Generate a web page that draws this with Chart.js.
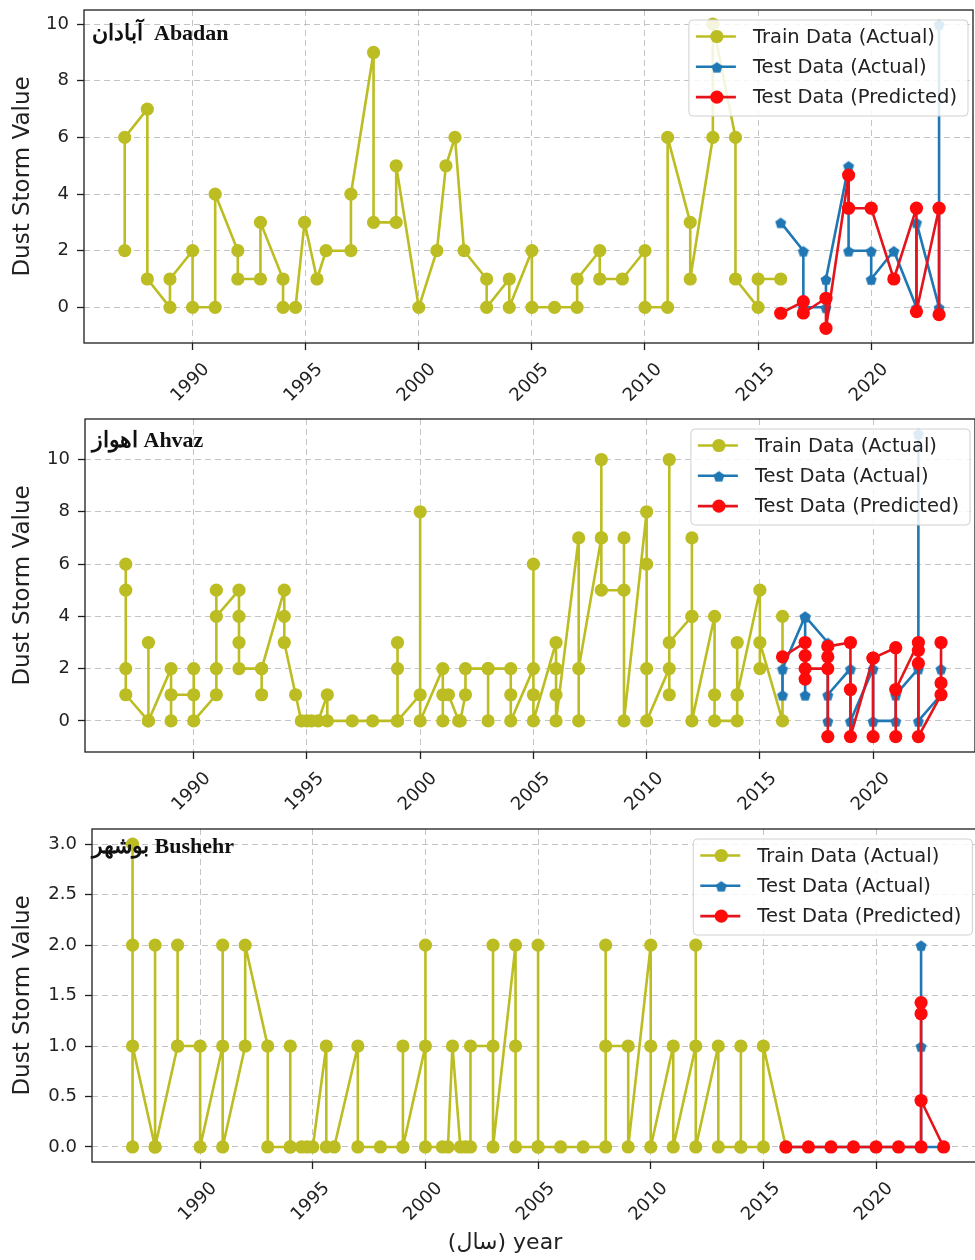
<!DOCTYPE html>
<html>
<head>
<meta charset="utf-8">
<script src="https://cdn.jsdelivr.net/npm/chart.js@4.4.1/dist/chart.umd.min.js"></script>
<style>
  html, body { margin: 0; padding: 0; background: #fff; }
  #wrap { position: relative; width: 975px; height: 1260px; overflow: hidden; }
  .panel { position: absolute; left: 0; width: 985px; }
  .panel canvas { display: block; }
</style>
</head>
<body>
<div id="wrap">
  <div class="panel" style="top:0;height:410px"><canvas id="abadanChart" width="985" height="410"></canvas></div>
  <div class="panel" style="top:410px;height:410px"><canvas id="ahvazChart" width="985" height="410"></canvas></div>
  <div class="panel" style="top:820px;height:440px"><canvas id="bushehrChart" width="985" height="440"></canvas></div>
</div>
<script>
(function () {
  "use strict";

  // -------------------------
  // Data
  // -------------------------
  const seriesLabels = ["Train Data (Actual)", "Test Data (Actual)", "Test Data (Predicted)"];
  const stationTitles = ["آبادان  Abadan", "اهواز Ahvaz", "بوشهر Bushehr"];
  const xAxisTitle = "(سال) year";
  const yAxisTitle = "Dust Storm Value";

  // Abadan
  const abadanTrainYears = [1987, 1987, 1988, 1988, 1989, 1989, 1990, 1990, 1991, 1991, 1992, 1992, 1993, 1993, 1994, 1994, 1994.55, 1994.95, 1995.5, 1995.9, 1997, 1997, 1998, 1998, 1999, 1999, 2000, 2000.8, 2001.2, 2001.6, 2002, 2003, 2003, 2004, 2004, 2005, 2005, 2006, 2007, 2007, 2008, 2008, 2009, 2010, 2010, 2011, 2011, 2012, 2012, 2013, 2013, 2014, 2014, 2015, 2015, 2016];
  const abadanTrainValues = [2, 6, 7, 1, 0, 1, 2, 0, 0, 4, 2, 1, 1, 3, 1, 0, 0, 3, 1, 2, 2, 4, 9, 3, 3, 5, 0, 2, 5, 6, 2, 1, 0, 1, 0, 2, 0, 0, 0, 1, 2, 1, 1, 2, 0, 0, 6, 3, 1, 6, 10, 6, 1, 0, 1, 1];
  const abadanTestYears = [2016, 2017, 2017, 2018, 2018, 2019, 2019, 2020, 2020, 2021, 2022, 2022, 2023, 2023];
  const abadanTestValues = [3, 2, 0, 0, 1, 5, 2, 2, 1, 2, 0, 3, 0, 10];
  const abadanPredYears = [2016, 2017, 2017, 2018, 2018, 2019, 2019, 2020, 2021, 2022, 2022, 2023, 2023];
  const abadanPredValues = [-0.21, 0.2, -0.2, 0.32, -0.74, 4.67, 3.5, 3.5, 1.0, 3.5, -0.15, 3.5, -0.26];

  // Ahvaz
  const ahvazTrainYears = [1987, 1987, 1987, 1987, 1988, 1988, 1988, 1989, 1989, 1989, 1990, 1990, 1990, 1991, 1991, 1991, 1991, 1992, 1992, 1992, 1992, 1993, 1993, 1993, 1994, 1994, 1994, 1994.5, 1994.75, 1995, 1995.2, 1995.5, 1995.9, 1995.9, 1997, 1997.9, 1999, 1999, 1999, 1999, 2000, 2000, 2000, 2001, 2001, 2001, 2001.25, 2001.7, 2001.77, 2002, 2002, 2003, 2003, 2003, 2004, 2004, 2004, 2005, 2005, 2005, 2005, 2006, 2006, 2006, 2006, 2007, 2007, 2007, 2008, 2008, 2008, 2008, 2009, 2009, 2009, 2010, 2010, 2010, 2010, 2011, 2011, 2011, 2011, 2012, 2012, 2012, 2012, 2013, 2013, 2013, 2014, 2014, 2014, 2014, 2015, 2015, 2015, 2016, 2016];
  const ahvazTrainValues = [6, 5, 2, 1, 0, 3, 0, 2, 0, 1, 1, 2, 0, 1, 2, 5, 4, 5, 4, 3, 2, 2, 1, 2, 5, 4, 3, 1, 0, 0, 0, 0, 1, 0, 0, 0, 0, 2, 3, 0, 1, 8, 0, 2, 0, 1, 1, 0, 0, 1, 2, 2, 0, 2, 2, 1, 0, 2, 6, 1, 0, 3, 2, 1, 0, 7, 0, 2, 7, 10, 7, 5, 5, 7, 0, 8, 6, 2, 0, 2, 1, 10, 3, 4, 7, 4, 0, 4, 1, 0, 0, 1, 3, 1, 5, 2, 3, 0, 4];
  const ahvazTestYears = [2016, 2016, 2017, 2017, 2017, 2018, 2018, 2018, 2019, 2019, 2020, 2020, 2021, 2021, 2022, 2022, 2022, 2023, 2023];
  const ahvazTestValues = [1, 2, 4, 1, 4, 3, 0, 1, 2, 0, 2, 0, 0, 1, 2, 11, 0, 1, 2];
  const ahvazPredYears = [2016, 2017, 2017, 2017, 2017, 2018, 2018, 2018, 2018, 2019, 2019, 2019, 2020, 2020, 2020, 2021, 2021, 2021, 2022, 2022, 2022, 2022, 2023, 2023, 2023];
  const ahvazPredValues = [2.45, 3.0, 2.5, 1.6, 2.0, 2.0, 2.45, -0.6, 2.85, 3.0, 1.2, -0.6, 2.4, -0.6, 2.4, 2.8, -0.6, 1.2, 3.0, 2.7, 2.2, -0.6, 1.0, 1.45, 3.0];

  // Bushehr
  const bushehrTrainYears = [1987, 1987, 1987, 1987, 1988, 1988, 1988, 1989, 1989, 1989, 1990, 1990, 1991, 1991, 1991, 1992, 1992, 1993, 1993, 1994, 1994, 1994, 1994.5, 1994.75, 1995, 1995.6, 1995.6, 1995.95, 1997, 1997, 1998, 1999, 1999, 1999, 2000, 2000, 2000, 2000.75, 2001, 2001.2, 2001.55, 2001.78, 2002, 2002, 2003, 2003, 2003, 2004, 2004, 2004, 2005, 2005, 2005, 2006, 2007, 2008, 2008, 2008, 2009, 2009, 2010, 2010, 2010, 2011, 2011, 2012, 2012, 2012, 2013, 2013, 2014, 2014, 2014, 2015, 2015, 2016];
  const bushehrTrainValues = [3, 0, 2, 1, 0, 2, 0, 1, 2, 1, 1, 0, 1, 2, 0, 1, 2, 1, 0, 0, 1, 0, 0, 0, 0, 1, 0, 0, 1, 0, 0, 0, 1, 0, 1, 2, 0, 0, 0, 1, 0, 0, 0, 1, 1, 2, 0, 2, 1, 0, 0, 2, 0, 0, 0, 0, 2, 1, 1, 0, 2, 1, 0, 1, 0, 1, 2, 0, 1, 0, 0, 1, 0, 0, 1, 0];
  const bushehrTestYears = [2016, 2017, 2018, 2019, 2020, 2021, 2022, 2022, 2022, 2022, 2023];
  const bushehrTestValues = [0, 0, 0, 0, 0, 0, 0, 2, 1, 0, 0];
  const bushehrPredYears = [2016, 2017, 2018, 2019, 2020, 2021, 2022, 2022, 2022, 2022, 2023];
  const bushehrPredValues = [0, 0, 0, 0, 0, 0, 0, 1.43, 1.32, 0.46, 0];

  // -------------------------
  // Styles
  // -------------------------
  const FONT = "'DejaVu Sans', 'Noto Sans', sans-serif";
  const TEXT = "#222";
  const OLIVE = "#bcbd22";
  const BLUE = "#1f77b4";
  const RED_LINE = "#e3141c";
  const RED_PT = "#ff0a0a";
  const LINE_W = 2.6;
  const DOT_R = 6.6;

  function makePentagon(r, color) {
    const c = document.createElement("canvas");
    const s = Math.ceil(r * 2 + 2);
    c.width = s;
    c.height = s;
    const g = c.getContext("2d");
    g.fillStyle = color;
    g.beginPath();
    for (let i = 0; i < 5; i++) {
      const a = -Math.PI / 2 + (i * 2 * Math.PI) / 5;
      const x = s / 2 + r * Math.cos(a);
      const y = s / 2 + 1 + r * Math.sin(a);
      if (i === 0) g.moveTo(x, y);
      else g.lineTo(x, y);
    }
    g.closePath();
    g.fill();
    return c;
  }
  const pentagon = makePentagon(5.8, BLUE);

  function toPoints(xs, ys) {
    return xs.map((x, i) => ({ x: x, y: ys[i] }));
  }

  function lineStyle(color) {
    return {
      showLine: true, borderColor: color, borderWidth: LINE_W,
      borderJoinStyle: "round", borderCapStyle: "round",
    };
  }

  function makeDatasets(trainX, trainY, testX, testY, predX, predY) {
    return [
      Object.assign({
        label: seriesLabels[0], data: toPoints(trainX, trainY), backgroundColor: OLIVE,
        pointRadius: DOT_R, pointBorderWidth: 0, pointStyle: "circle", order: 3,
        markerKind: "circle", markerColor: OLIVE,
      }, lineStyle(OLIVE)),
      Object.assign({
        label: seriesLabels[1], data: toPoints(testX, testY), backgroundColor: BLUE,
        pointRadius: 5, pointStyle: pentagon, order: 2,
        markerKind: "pentagon", markerColor: BLUE,
      }, lineStyle(BLUE)),
      Object.assign({
        label: seriesLabels[2], data: toPoints(predX, predY), backgroundColor: RED_PT,
        pointRadius: DOT_R, pointBorderWidth: 0, pointStyle: "circle", order: 1,
        markerKind: "circle", markerColor: RED_PT,
      }, lineStyle(RED_LINE)),
    ];
  }

  // frame, legend, station label, optional x title
  function decorPlugin(station, labelDY, xTitle) {
    return {
      id: "decor",
      afterDatasetsDraw(chart) {
        const a = chart.chartArea;
        const ctx = chart.ctx;
        ctx.save();
        ctx.strokeStyle = "#1e1e1e";
        ctx.lineWidth = 1.3;
        ctx.strokeRect(a.left, a.top, a.right - a.left, a.bottom - a.top);
        ctx.restore();
      },
      afterDraw(chart) {
        const a = chart.chartArea;
        const ctx = chart.ctx;
        ctx.save();

        // station label
        ctx.fillStyle = "#111";
        ctx.font = "bold 22px 'Liberation Serif', 'DejaVu Serif', serif";
        ctx.textAlign = "left";
        ctx.textBaseline = "alphabetic";
        ctx.direction = "ltr";
        ctx.fillText(station, 92, a.top + labelDY);

        // legend
        ctx.font = "19.5px " + FONT;
        const sets = chart.data.datasets;
        let tw = 0;
        sets.forEach((d) => { tw = Math.max(tw, ctx.measureText(d.label).width); });
        const bw = 65 + tw + 10;
        const bh = 96;
        const bx = a.right - 5 - bw;
        const by = a.top + 10;
        ctx.beginPath();
        ctx.roundRect(bx, by, bw, bh, 4);
        ctx.fillStyle = "rgba(255,255,255,0.85)";
        ctx.fill();
        ctx.strokeStyle = "#d0d0d0";
        ctx.lineWidth = 1;
        ctx.stroke();
        sets.forEach((d, i) => {
          const cy = by + 16.5 + i * 30.3;
          ctx.strokeStyle = d.borderColor;
          ctx.lineWidth = LINE_W;
          ctx.beginPath();
          ctx.moveTo(bx + 7, cy);
          ctx.lineTo(bx + 47, cy);
          ctx.stroke();
          if (d.markerKind === "pentagon") {
            ctx.drawImage(pentagon, bx + 28 - pentagon.width / 2, cy - pentagon.height / 2);
          } else {
            ctx.fillStyle = d.markerColor;
            ctx.beginPath();
            ctx.arc(bx + 28, cy, DOT_R, 0, Math.PI * 2);
            ctx.fill();
          }
          ctx.fillStyle = TEXT;
          ctx.textBaseline = "middle";
          ctx.fillText(d.label, bx + 64, cy + 1);
        });

        if (xTitle) {
          ctx.font = "22px " + FONT;
          ctx.fillStyle = TEXT;
          ctx.textAlign = "center";
          ctx.textBaseline = "middle";
          ctx.fillText(xTitle, 505, chart.height - 17);
        }
        ctx.restore();
      },
    };
  }

  function createPanel(canvasId, cfg) {
    const el = document.getElementById(canvasId);
    if (!el) {
      console.warn("Missing canvas:", canvasId);
      return null;
    }
    const ctx = el.getContext("2d");
    return new Chart(ctx, {
      type: "scatter",
      data: { datasets: cfg.datasets },
      options: {
        responsive: false,
        animation: false,
        devicePixelRatio: 1,
        layout: { padding: { top: cfg.padTop, right: cfg.padRight, left: 0, bottom: 0 } },
        plugins: { legend: { display: false }, tooltip: { enabled: false } },
        elements: { line: { tension: 0 } },
        scales: {
          x: {
            type: "linear",
            min: 1985.2,
            max: 2024.5,
            border: { display: false, dash: [6, 4] },
            grid: { color: "#c4c4c4", lineWidth: 1, tickLength: 7, tickColor: "#1e1e1e", tickWidth: 1.3, tickBorderDash: [] },
            ticks: {
              stepSize: 5, includeBounds: false, autoSkip: false,
              minRotation: 45, maxRotation: 45, labelOffset: 14, padding: 9,
              color: TEXT, font: { family: FONT, size: 18 },
              callback: (v) => String(Math.round(v)),
            },
            afterFit: (s) => {
              s.height = cfg.xHeight;
              s.paddingLeft = 0;
              s.paddingRight = 0;
            },
          },
          y: {
            min: cfg.yMin,
            max: cfg.yMax,
            border: { display: false, dash: [6, 4] },
            grid: { color: "#c4c4c4", lineWidth: 1, tickLength: 7, tickColor: "#1e1e1e", tickWidth: 1.3, tickBorderDash: [] },
            ticks: {
              stepSize: cfg.yStep, includeBounds: false, padding: 8,
              color: TEXT, font: { family: FONT, size: 18 },
              callback: cfg.yFormat,
            },
            title: {
              display: true, text: yAxisTitle, color: TEXT,
              font: { family: FONT, size: 23 }, padding: { top: 9, bottom: 0 },
            },
            afterFit: (s) => {
              s.width = cfg.yWidth;
              s.paddingTop = 0;
              s.paddingBottom = 0;
            },
          },
        },
      },
      plugins: [decorPlugin(cfg.station, cfg.labelDY, cfg.xTitle)],
    });
  }

  const intFmt = (v) => String(Math.round(v));
  const oneDec = (v) => Number(v).toFixed(1);

  createPanel("abadanChart", {
    datasets: makeDatasets(abadanTrainYears, abadanTrainValues, abadanTestYears, abadanTestValues, abadanPredYears, abadanPredValues),
    padTop: 10, padRight: 12, xHeight: 67, yWidth: 84,
    yMin: -1.26, yMax: 10.5, yStep: 2, yFormat: intFmt,
    station: stationTitles[0], labelDY: 30, xTitle: null,
  });

  createPanel("ahvazChart", {
    datasets: makeDatasets(ahvazTrainYears, ahvazTrainValues, ahvazTestYears, ahvazTestValues, ahvazPredYears, ahvazPredValues),
    padTop: 9, padRight: 10, xHeight: 68, yWidth: 85,
    yMin: -1.19, yMax: 11.55, yStep: 2, yFormat: intFmt,
    station: stationTitles[1], labelDY: 28, xTitle: null,
  });

  createPanel("bushehrChart", {
    datasets: makeDatasets(bushehrTrainYears, bushehrTrainValues, bushehrTestYears, bushehrTestValues, bushehrPredYears, bushehrPredValues),
    padTop: 9, padRight: 5, xHeight: 98, yWidth: 92,
    yMin: -0.149, yMax: 3.15, yStep: 0.5, yFormat: oneDec,
    station: stationTitles[2], labelDY: 24, xTitle: xAxisTitle,
  });
})();
</script>
</body>
</html>
